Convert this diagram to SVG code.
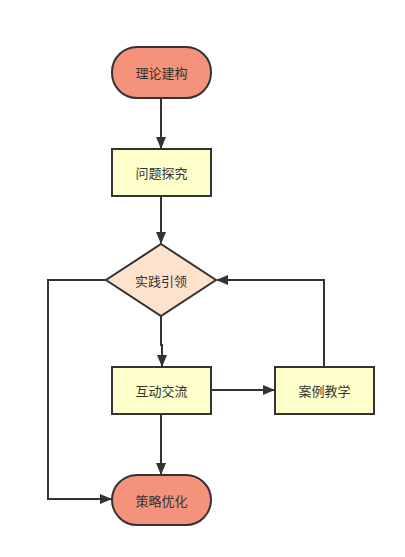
<svg xmlns="http://www.w3.org/2000/svg" width="405" height="557" viewBox="0 0 405 557">
<style>
.term{fill:#F5927B;stroke:#333;stroke-width:2}
.box{fill:#FFFFCC;stroke:#333;stroke-width:2}
.dia{fill:#FFE2CC;stroke:#333;stroke-width:2}
.lbl{font-family:"Noto Sans CJK SC","Liberation Sans",sans-serif;font-size:13px;fill:#333;text-anchor:middle;dominant-baseline:central}
.edge{fill:none;stroke:#333;stroke-width:2}
</style>
<defs>
<marker id="arr" markerWidth="12" markerHeight="10" refX="11" refY="5" orient="auto" markerUnits="userSpaceOnUse">
<path d="M0,0 L12,5 L0,10 Z" fill="#333"/>
</marker>
</defs>
<rect width="405" height="557" fill="#fff"/>
<g id="edges">
<path class="edge" d="M161,98 V148" marker-end="url(#arr)"/>
<path class="edge" d="M161,196 V243" marker-end="url(#arr)"/>
<path class="edge" d="M161,316 V345 H162 V366" marker-end="url(#arr)"/>
<path class="edge" d="M211,390 H274" marker-end="url(#arr)"/>
<path class="edge" d="M324,367 V280 H217" marker-end="url(#arr)"/>
<path class="edge" d="M161,414 V474" marker-end="url(#arr)"/>
<path class="edge" d="M106,280 H48 V499 H111" marker-end="url(#arr)"/>
</g>
<g id="n1"><rect class="term" x="112" y="47" width="99" height="51" rx="25" ry="25"/><text class="lbl" x="161.5" y="72.5">理论建构</text></g>
<g id="n2"><rect class="box" x="112" y="149" width="99" height="47"/><text class="lbl" x="161.5" y="172.5">问题探究</text></g>
<g id="n3"><polygon class="dia" points="161,244 216,280 161,316 106,280"/><text class="lbl" x="161" y="280">实践引领</text></g>
<g id="n4"><rect class="box" x="112" y="367" width="99" height="47"/><text class="lbl" x="161.5" y="390.5">互动交流</text></g>
<g id="n5"><rect class="box" x="275" y="367" width="99" height="47"/><text class="lbl" x="324.5" y="390.5">案例教学</text></g>
<g id="n6"><rect class="term" x="112" y="475" width="99" height="50" rx="25" ry="25"/><text class="lbl" x="161.5" y="500">策略优化</text></g>
</svg>
